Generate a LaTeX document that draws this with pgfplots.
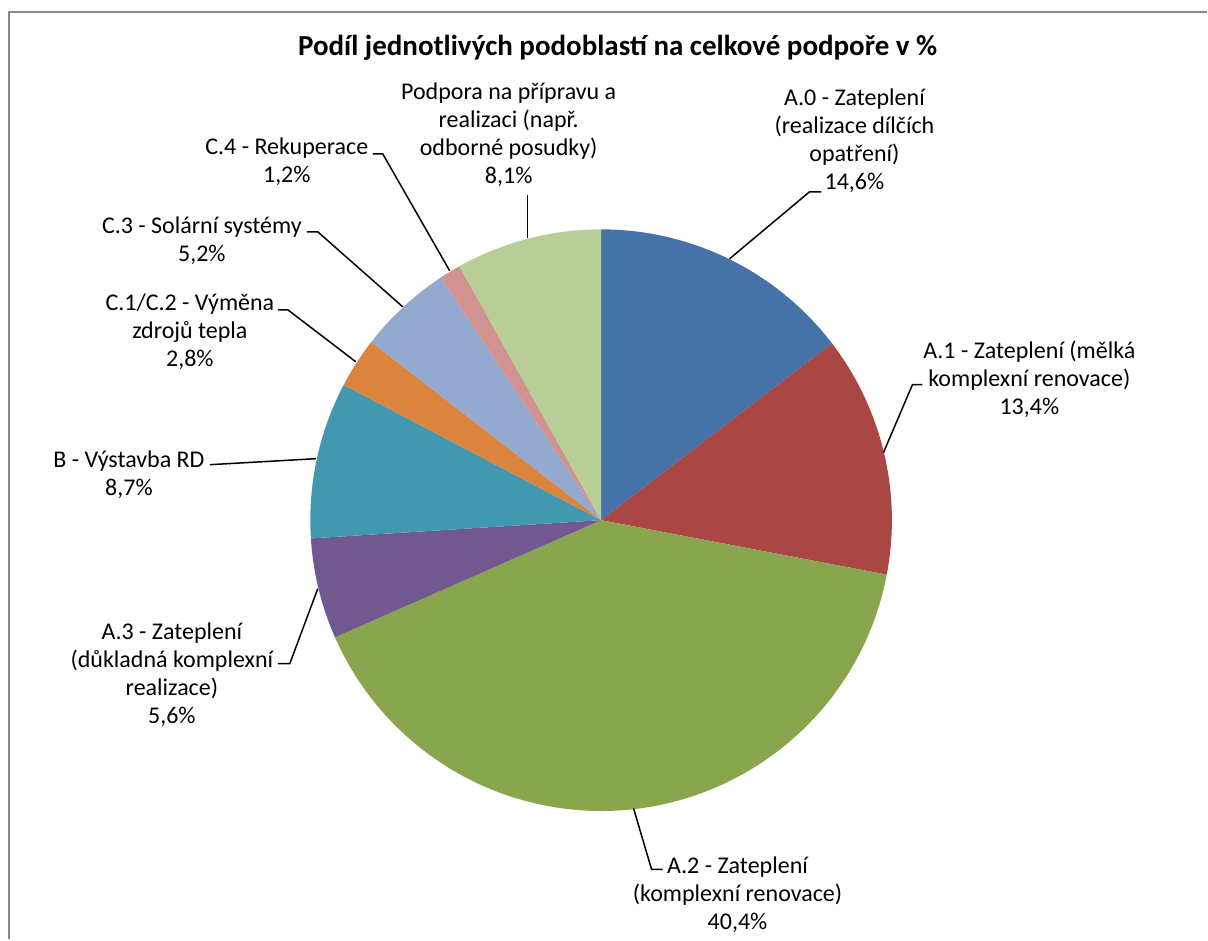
\documentclass[border=0pt]{standalone}
\usepackage{fontspec}
\setmainfont{Carlito}
\usepackage{pgfplots}
\pgfplotsset{compat=1.18}
\usepackage{pgfplotstable}

\definecolor{c0}{HTML}{4572A7}
\definecolor{c1}{HTML}{AA4643}
\definecolor{c2}{HTML}{89A54E}
\definecolor{c3}{HTML}{71588F}
\definecolor{c4}{HTML}{4198AF}
\definecolor{c5}{HTML}{DB843D}
\definecolor{c6}{HTML}{93A9CF}
\definecolor{c7}{HTML}{D19392}
\definecolor{c8}{HTML}{B9CD96}
\definecolor{frame}{HTML}{878787}

% share of each sub-area (%), clockwise from 12 o'clock
\pgfplotstableread{
idx value
0 14.6
1 13.4
2 40.4
3 5.6
4 8.7
5 2.8
6 5.2
7 1.2
8 8.1
}\piedata

\newcommand\lbl{\fontsize{12}{14}\selectfont}

\begin{document}
\begin{tikzpicture}
\xdef\startang{90}
\pgfplotsforeachungrouped \i in {0,...,8}{%
  \pgfplotstablegetelem{\i}{value}\of\piedata
  \pgfmathsetmacro\endang{\startang-3.6*\pgfplotsretval}%
  \expandafter\xdef\csname sa\i\endcsname{\startang}%
  \expandafter\xdef\csname ea\i\endcsname{\endang}%
  \xdef\startang{\endang}%
}
\begin{axis}[x=0.5pt, y=0.5pt, xmin=0, xmax=1208, ymin=0, ymax=940,
  y dir=reverse, hide axis, clip=false]
\path (axis cs:0,0) rectangle (axis cs:1208,940);
\addplot[draw=frame, line width=0.8pt, no marks] coordinates {(9,940) (9,12) (1208,12)};

\pgfplotsinvokeforeach{0,...,8}{%
  \edef\tmp{\noexpand\fill[c#1] (axis cs:601.5,520.5) -- ++(\csname sa#1\endcsname:145.5pt)
    arc[start angle=\csname sa#1\endcsname, end angle=\csname ea#1\endcsname, radius=145.5pt] -- cycle;}%
  \tmp
}

% leader lines
\addplot[black, line width=0.75pt, no marks] coordinates {(730,259) (810,192) (822,192)};
\addplot[black, line width=0.75pt, no marks] coordinates {(884,453) (913,385) (923,385)};
\addplot[black, line width=0.75pt, no marks] coordinates {(634,809) (652,870) (663,870)};
\addplot[black, line width=0.75pt, no marks] coordinates {(318,589) (290,664) (278,664)};
\addplot[black, line width=0.75pt, no marks] coordinates {(316,459) (210,465)};
\addplot[black, line width=0.75pt, no marks] coordinates {(356,362) (288,310) (278,310)};
\addplot[black, line width=0.75pt, no marks] coordinates {(403,307) (318,232) (307,232)};
\addplot[black, line width=0.75pt, no marks] coordinates {(450,271) (383,154) (373,154)};
\addplot[black, line width=0.75pt, no marks] coordinates {(528,238) (528,195)};

% title
\node[font=\fontsize{14.5}{17}\selectfont\bfseries] at (axis cs:618,48) {Podíl jednotlivých podoblastí na celkové podpoře v \%};

% labels
\node[font=\lbl, align=center] at (axis cs:855,141) {A.0 - Zateplení\\(realizace dílčích\\opatření)\\14,6\%};
\node[font=\lbl, align=center] at (axis cs:1030,380) {A.1 - Zateplení (mělká\\komplexní renovace)\\13,4\%};
\node[font=\lbl, align=center] at (axis cs:738,895) {A.2 - Zateplení\\(komplexní renovace)\\40,4\%};
\node[font=\lbl, align=center] at (axis cs:172,675) {A.3 - Zateplení\\(důkladná komplexní\\realizace)\\5,6\%};
\node[font=\lbl, align=center] at (axis cs:129,475) {B - Výstavba RD\\8,7\%};
\node[font=\lbl, align=center] at (axis cs:190,332) {C.1/C.2 - Výměna\\zdrojů tepla\\2,8\%};
\node[font=\lbl, align=center] at (axis cs:202,241) {C.3 - Solární systémy\\5,2\%};
\node[font=\lbl, align=center] at (axis cs:287,162) {C.4 - Rekuperace\\1,2\%};
\node[font=\lbl, align=center] at (axis cs:509,135) {Podpora na přípravu a\\realizaci (např.\\odborné posudky)\\8,1\%};
\end{axis}
\end{tikzpicture}
\end{document}
